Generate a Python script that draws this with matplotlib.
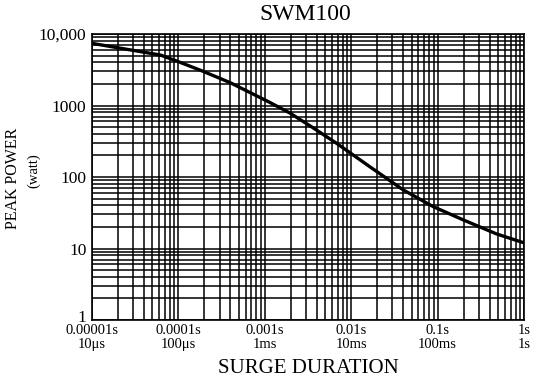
import numpy as np
import matplotlib
matplotlib.use('Agg')
import matplotlib.pyplot as plt
import matplotlib.transforms as mtransforms

# curve (seconds, watts)
duration = [1e-5, 6.2e-5, 1e-4, 1.9e-4, 4e-4, 1.15e-3, 1.95e-3, 3.6e-3,
            6.8e-3, 1.66e-2, 4e-2, 8.9e-2, 0.2, 0.48, 1.0]
power = [7400, 5080, 4100, 3030, 2080, 1100, 785, 490,
         295, 138, 66, 38.5, 25, 16, 12]

x_ticks = [1e-5, 1e-4, 1e-3, 1e-2, 1e-1, 1]
x_labels = ['0.00001s\n10\u03bcs', '0.0001s\n100\u03bcs', '0.001s\n1ms',
            '0.01s\n10ms', '0.1s\n100ms', '1s\n1s']
y_ticks = [1, 10, 100, 1000, 10000]
y_labels = ['1', '10', '100', '1000', '10,000']

matplotlib.rcParams['font.family'] = 'Liberation Serif'

fig = plt.figure(figsize=(5.37, 3.77), dpi=100)
ax = fig.add_axes([92/537, 57/377, 432/537, 286/377])

ax.plot(duration, power, '-k', lw=2.4, solid_capstyle='butt')
ax.set_xscale('log')
ax.set_yscale('log')
ax.set_xlim(1e-5, 1)
ax.set_ylim(1, 10000)

ax.set_xticks(x_ticks)
ax.set_xticklabels(x_labels, fontsize=10.5, linespacing=1.05)
ax.set_yticks(y_ticks)
ax.set_yticklabels(y_labels, fontsize=12.5)
ax.tick_params(which='both', length=0, pad=3)
ax.tick_params(axis='y', pad=4)
ax.grid(True, which='both', color='k', lw=1.1)
for s in ax.spines.values():
    s.set_linewidth(1.2)

# lift the "1" label a bit so it clears the x labels
lbl = ax.get_yticklabels()[0]
lbl.set_transform(lbl.get_transform() +
                  mtransforms.ScaledTranslation(0, 3/72, fig.dpi_scale_trans))

fig.text(305/537, 1 - 14/377, 'SWM100', fontsize=17, ha='center', va='center')
ax.set_xlabel('SURGE DURATION', fontsize=15, labelpad=6)
fig.text(13/537, 1 - 178/377, 'PEAK POWER', rotation=90, fontsize=11.5,
         ha='center', va='center')
fig.text(34/537, 1 - 171/377, '(watt)', rotation=90, fontsize=10.5,
         ha='center', va='center')

fig.savefig('out.png', dpi=100)
